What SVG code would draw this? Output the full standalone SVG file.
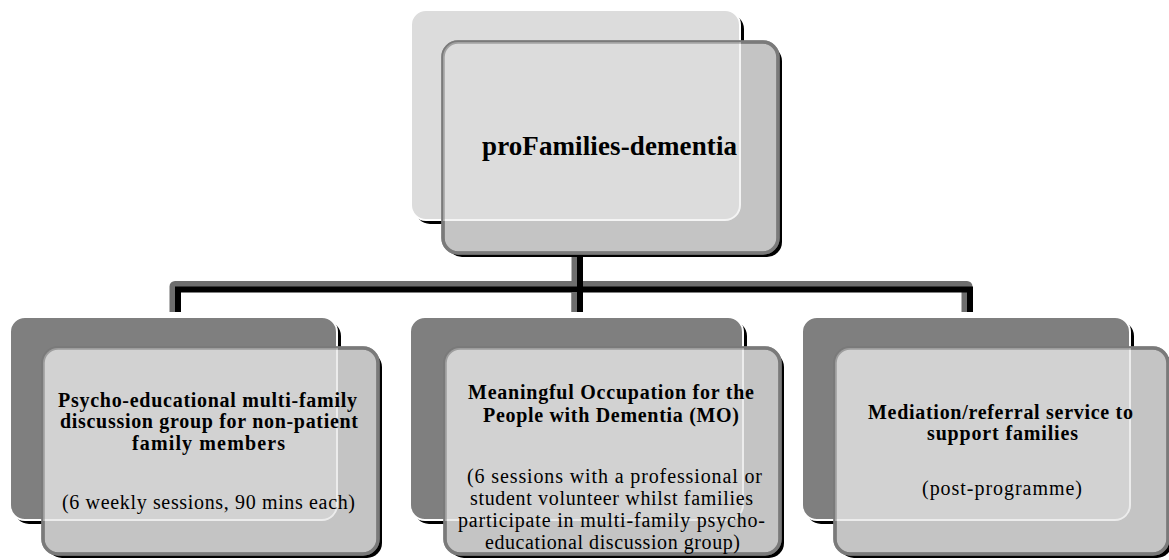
<svg xmlns="http://www.w3.org/2000/svg" width="1169" height="560" viewBox="0 0 1169 560">
<style>
.shadow{fill:#000}
.backTop{fill:#dcdcdc;stroke:#ffffff;stroke-width:2}
.backBot{fill:#7f7f7f;stroke:#ffffff;stroke-width:2}
.front{fill:#c4c4c4;stroke:#7a7a7a;stroke-width:3.5}
.frontLine{fill:none;stroke:#7a7a7a;stroke-width:3.5}
.ovTop{fill:#dcdcdc;stroke:#f4f4f4;stroke-width:2}
.ovBot{fill:#d2d2d2;stroke:#ececec;stroke-width:2}
.b{font-family:"Liberation Serif","Times New Roman",serif;font-weight:bold;font-size:20px;text-anchor:middle;fill:#000}
.n{font-family:"Liberation Serif","Times New Roman",serif;font-size:20px;text-anchor:middle;fill:#000}
.t{font-family:"Liberation Serif","Times New Roman",serif;font-weight:bold;font-size:27px;text-anchor:middle;fill:#000}
.cg{fill:none;stroke:#6e6e6e;stroke-width:11;stroke-linejoin:round}
.cb{fill:none;stroke:#000;stroke-width:6;stroke-linejoin:miter}
</style>
<defs>
<clipPath id="cTop"><rect x="443" y="42" width="335" height="211" rx="15"/></clipPath>
<clipPath id="cL"><rect x="43" y="348" width="335" height="206" rx="15"/></clipPath>
<clipPath id="cM"><rect x="445" y="348" width="335" height="206" rx="15"/></clipPath>
<clipPath id="cR"><rect x="835" y="348" width="333" height="206" rx="15"/></clipPath>
</defs>
<rect width="1169" height="560" fill="#ffffff"/>
<g id="connectors">
<path class="cg" d="M577 250 V312"/>
<path class="cg" d="M175 312 V286.5 H967 V312"/>
<path class="cb" d="M580 255 V312"/>
<path class="cb" d="M178 312 V289.5 H970 V312"/>
<path class="cg" d="M577 292 V312"/>
<path class="cb" d="M580 292 V312"/>
</g>
<g id="node-top">
<rect class="shadow" x="415" y="14" width="329" height="210" rx="15"/>
<rect class="backTop" x="411" y="10" width="329" height="210" rx="15"/>
<rect class="shadow" x="447" y="46" width="335" height="211" rx="15"/>
<rect class="front" x="443" y="42" width="335" height="211" rx="15"/>
<rect class="ovTop" clip-path="url(#cTop)" x="411" y="10" width="329" height="210" rx="15"/>
<rect class="frontLine" x="443" y="42" width="335" height="211" rx="15" opacity="0.6"/>
<text class="t" x="609.5" y="155" textLength="255" lengthAdjust="spacing">proFamilies-dementia</text>
</g>
<g id="node-left">
<rect class="shadow" x="14" y="321" width="327" height="203" rx="15"/>
<rect class="backBot" x="10" y="317" width="327" height="203" rx="15"/>
<rect class="shadow" x="47" y="352" width="335" height="206" rx="15"/>
<rect class="front" x="43" y="348" width="335" height="206" rx="15"/>
<rect class="ovBot" clip-path="url(#cL)" x="10" y="317" width="327" height="203" rx="15"/>
<rect class="frontLine" x="43" y="348" width="335" height="206" rx="15" opacity="0.6"/>
<text class="b" x="207.5" y="407" textLength="299" lengthAdjust="spacing">Psycho-educational multi-family</text>
<text class="b" x="209" y="428" textLength="298" lengthAdjust="spacing">discussion group for non-patient</text>
<text class="b" x="208.5" y="450" textLength="153" lengthAdjust="spacing">family members</text>
<text class="n" x="208.5" y="509" textLength="293" lengthAdjust="spacing">(6 weekly sessions, 90 mins each)</text>
</g>
<g id="node-middle">
<rect class="shadow" x="414" y="321" width="333" height="203" rx="15"/>
<rect class="backBot" x="410" y="317" width="333" height="203" rx="15"/>
<rect class="shadow" x="449" y="352" width="335" height="206" rx="15"/>
<rect class="front" x="445" y="348" width="335" height="206" rx="15"/>
<rect class="ovBot" clip-path="url(#cM)" x="410" y="317" width="333" height="203" rx="15"/>
<rect class="frontLine" x="445" y="348" width="335" height="206" rx="15" opacity="0.6"/>
<text class="b" x="611" y="399" textLength="286" lengthAdjust="spacing">Meaningful Occupation for the</text>
<text class="b" x="611" y="422" textLength="256" lengthAdjust="spacing">People with Dementia (MO)</text>
<text class="n" x="614.5" y="483" textLength="295" lengthAdjust="spacing">(6 sessions with a professional or</text>
<text class="n" x="611.5" y="505" textLength="283" lengthAdjust="spacing">student volunteer whilst families</text>
<text class="n" x="611.5" y="527" textLength="307" lengthAdjust="spacing">participate in multi-family psycho-</text>
<text class="n" x="612.5" y="549" textLength="255" lengthAdjust="spacing">educational discussion group)</text>
</g>
<g id="node-right">
<rect class="shadow" x="806" y="321" width="328" height="203" rx="15"/>
<rect class="backBot" x="802" y="317" width="328" height="203" rx="15"/>
<rect class="shadow" x="839" y="352" width="333" height="206" rx="15"/>
<rect class="front" x="835" y="348" width="333" height="206" rx="15"/>
<rect class="ovBot" clip-path="url(#cR)" x="802" y="317" width="328" height="203" rx="15"/>
<rect class="frontLine" x="835" y="348" width="333" height="206" rx="15" opacity="0.6"/>
<text class="b" x="1000.5" y="419" textLength="265" lengthAdjust="spacing">Mediation/referral service to</text>
<text class="b" x="1002.5" y="440" textLength="151" lengthAdjust="spacing">support families</text>
<text class="n" x="1002" y="495" textLength="160" lengthAdjust="spacing">(post-programme)</text>
</g>
</svg>
